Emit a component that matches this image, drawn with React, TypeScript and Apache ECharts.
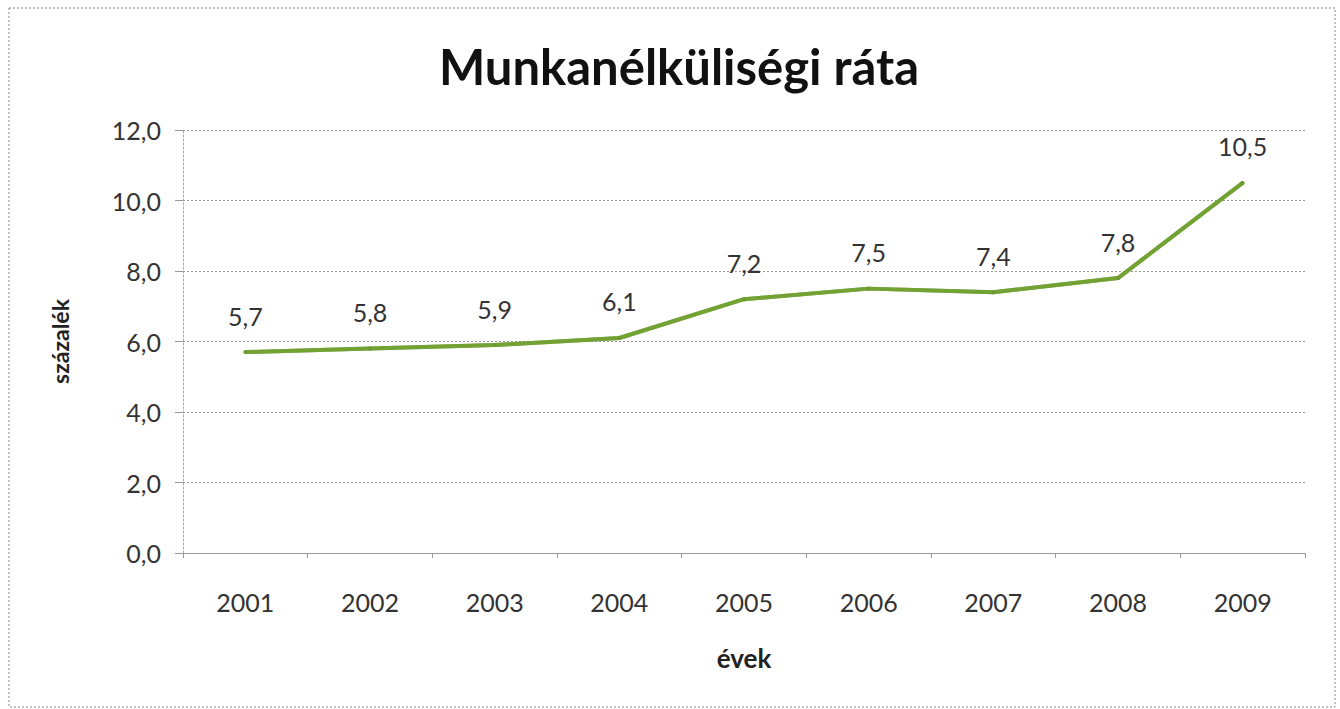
import React, { useEffect, useRef } from "react";
import * as echarts from "echarts";

const years = ["2001", "2002", "2003", "2004", "2005", "2006", "2007", "2008", "2009"];
const rates = [5.7, 5.8, 5.9, 6.1, 7.2, 7.5, 7.4, 7.8, 10.5];
const titleText = "Munkanélküliségi ráta";
const yName = "százalék";
const xName = "évek";

const FONT = "Lato, 'Open Sans', sans-serif";
const fmt = (v: number) => v.toFixed(1).replace(".", ",");

export default function App() {
  const ref = useRef<HTMLDivElement>(null);
  useEffect(() => {
    document.body.style.margin = "0";
    if (!ref.current) return;
    const chart = echarts.init(ref.current, null, { renderer: "svg" });
    chart.setOption({
      animation: false,
      backgroundColor: "#ffffff",
      textStyle: { fontFamily: FONT },
      title: {
        text: titleText,
        left: 674,
        textAlign: "center",
        top: 36,
        textStyle: { fontFamily: FONT, fontSize: 49, fontWeight: "bold", color: "#111" },
      },
      graphic: [
        {
          type: "rect",
          shape: { x: 9, y: 8, width: 1326, height: 699 },
          style: { fill: "none", stroke: "#888", lineWidth: 1, lineDash: [2, 2] },
          silent: true,
        },
      ],
      grid: { left: 183, right: 35, top: 130, bottom: 156 },
      xAxis: {
        type: "category",
        data: years,
        boundaryGap: true,
        name: xName,
        nameLocation: "middle",
        nameGap: 92,
        nameTextStyle: { fontFamily: FONT, fontSize: 26, fontWeight: "bold", color: "#222" },
        axisLine: { lineStyle: { color: "#999", width: 1 } },
        axisTick: { show: true, length: 5, lineStyle: { color: "#999" } },
        axisLabel: { fontFamily: FONT, fontSize: 25, color: "#333", margin: 36 },
      },
      yAxis: {
        type: "value",
        min: 0,
        max: 12,
        interval: 2,
        name: yName,
        nameLocation: "middle",
        nameGap: 112,
        nameRotate: 90,
        nameTextStyle: { fontFamily: FONT, fontSize: 23, fontWeight: "bold", color: "#222" },
        axisLine: { show: true, lineStyle: { color: "#aaa", width: 1, type: [2, 2] } },
        axisTick: { show: true, length: 8, lineStyle: { color: "#999" } },
        axisLabel: {
          fontFamily: FONT,
          fontSize: 25,
          color: "#333",
          margin: 22,
          formatter: (v: number) => fmt(v),
        },
        splitLine: { show: true, lineStyle: { color: "#999", width: 1, type: [2, 2] } },
      },
      series: [
        {
          type: "line",
          data: rates,
          symbol: "circle",
          symbolSize: 4,
          itemStyle: { color: "#6c9a2e" },
          lineStyle: { color: "#72a332", width: 4, shadowColor: "rgba(60,70,20,0.5)", shadowBlur: 1 },
          label: {
            show: true,
            position: "top",
            distance: 22,
            fontFamily: FONT,
            fontSize: 25,
            color: "#333",
            formatter: (p: any) => fmt(p.value),
          },
        },
      ],
    });
    return () => chart.dispose();
  }, []);
  return <div ref={ref} style={{ width: 1340, height: 709 }} />;
}
